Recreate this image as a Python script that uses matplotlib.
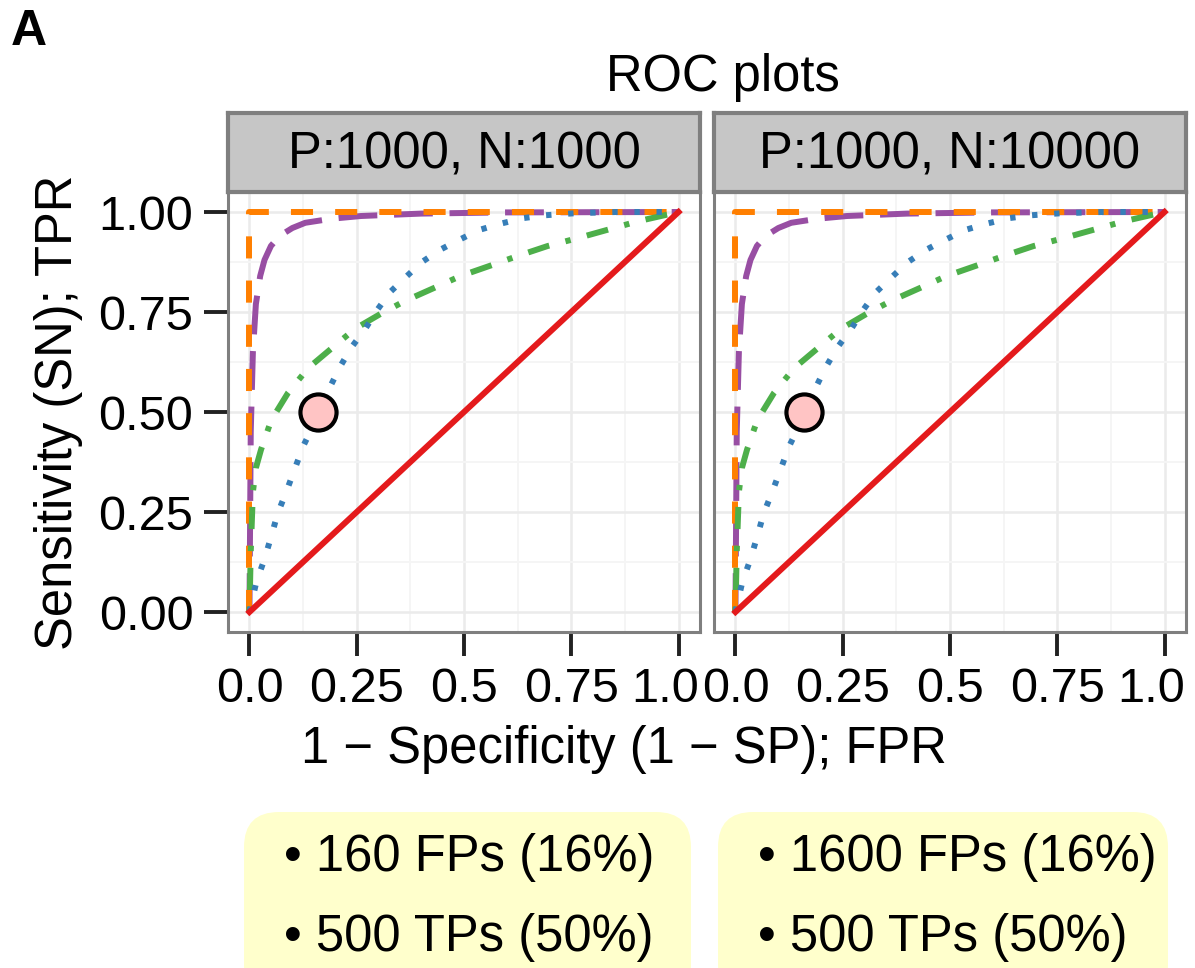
import matplotlib
matplotlib.use("Agg")
import matplotlib.pyplot as plt
from matplotlib.patches import FancyBboxPatch
from matplotlib.transforms import ScaledTranslation

plt.rcParams['font.family'] = ['Liberation Sans', 'DejaVu Sans']

# ROC curves (same shapes in both panels)
random_fpr = [0.0, 1.0]
random_tpr = [0.0, 1.0]

perfect_fpr = [0.0, 0.0, 1.0]
perfect_tpr = [0.0, 1.0, 1.0]

excel_fpr = [0.0, 0.003, 0.008, 0.015, 0.025, 0.035, 0.05, 0.07, 0.1, 0.13, 0.19, 0.26, 0.4, 0.6, 1.0]
excel_tpr = [0.0, 0.45, 0.65, 0.77, 0.84, 0.88, 0.915, 0.94, 0.96, 0.973, 0.983, 0.99, 0.996, 0.999, 1.0]

good_fpr = [0.0, 0.016, 0.035, 0.051, 0.066, 0.086, 0.105, 0.125, 0.164, 0.188, 0.211, 0.238, 0.27,
            0.297, 0.328, 0.363, 0.402, 0.445, 0.488, 0.535, 0.586, 0.64, 0.691, 0.76, 0.855, 1.0]
good_tpr = [0.0, 0.075, 0.132, 0.19, 0.247, 0.301, 0.356, 0.414, 0.5, 0.563, 0.613, 0.662, 0.708,
            0.754, 0.8, 0.836, 0.875, 0.906, 0.93, 0.955, 0.971, 0.985, 0.992, 0.997, 1.0, 1.0]

fair_fpr = [0.0, 0.003, 0.008, 0.015, 0.027, 0.051, 0.09, 0.137, 0.188, 0.246, 0.305, 0.363, 0.43,
            0.492, 0.559, 0.625, 0.695, 0.766, 0.836, 0.906, 0.98, 1.0]
fair_tpr = [0.0, 0.15, 0.3, 0.36, 0.406, 0.48, 0.548, 0.61, 0.656, 0.708, 0.745, 0.778, 0.81,
            0.84, 0.865, 0.89, 0.915, 0.935, 0.956, 0.977, 0.995, 1.0]

point_fpr = 0.16
point_tpr = 0.5

panel_titles = ['P:1000, N:1000', 'P:1000, N:10000']
box_lines = [['• 160 FPs (16%)', '• 500 TPs (50%)'],
             ['• 1600 FPs (16%)', '• 500 TPs (50%)']]

x_ticks = [0.0, 0.25, 0.5, 0.75, 1.0]
x_ticklabels = ['0.0', '0.25', '0.5', '0.75', '1.0']
y_ticks = [0.0, 0.25, 0.5, 0.75, 1.0]
y_ticklabels = ['0.00', '0.25', '0.50', '0.75', '1.00']
minor_ticks = [0.125, 0.375, 0.625, 0.875]

W, H = 1195, 968
FS = 36.5
TFS = 35
LW = 4.3
BORDER = '#7F7F7F'


def frac(x0, y0, x1, y1):
    """pixel box (top-left origin) -> figure fraction rect"""
    return [x0 / W, 1 - y1 / H, (x1 - x0) / W, (y1 - y0) / H]


fig = plt.figure(figsize=(W / 100, H / 100), dpi=100)

panels = [(228, 700), (714, 1186)]
for i, (x0, x1) in enumerate(panels):
    ax = fig.add_axes(frac(x0, 192, x1, 632))
    ax.set_xlim(-0.05, 1.05)
    ax.set_ylim(-0.05, 1.05)
    ax.set_xticks(x_ticks)
    ax.set_xticklabels(x_ticklabels)
    ax.set_yticks(y_ticks)
    ax.set_yticklabels(y_ticklabels)
    ax.set_xticks(minor_ticks, minor=True)
    ax.set_yticks(minor_ticks, minor=True)
    ax.grid(True, which='major', color='#EBEBEB', lw=1.8, zorder=0)
    ax.grid(True, which='minor', color='#F5F5F5', lw=1.3, zorder=0)
    ax.set_axisbelow(True)
    ax.tick_params(which='minor', length=0)
    ax.tick_params(which='major', direction='out', length=17, width=2.8, color='#222222',
                   labelsize=TFS, pad=8)
    if i > 0:
        ax.tick_params(axis='y', which='major', left=False, labelleft=False)
    # last x label sits a bit left of its tick, like the original
    last = ax.get_xticklabels()[-1]
    last.set_transform(last.get_transform() + ScaledTranslation(-0.13, 0, fig.dpi_scale_trans))
    for sp in ax.spines.values():
        sp.set_color(BORDER)
        sp.set_linewidth(2.2)

    ax.plot(excel_fpr, excel_tpr, color='#984EA3', lw=LW, linestyle=(0, (6.5, 2.8)))
    ax.plot(perfect_fpr, perfect_tpr, color='#FF7F00', lw=LW, linestyle=(0, (3.7, 3.7)))
    ax.plot(fair_fpr, fair_tpr, color='#4DAF4A', lw=LW, linestyle=(0, (0.9, 2.8, 3.7, 2.8)))
    ax.plot(good_fpr, good_tpr, color='#377EB8', lw=LW, linestyle=(0, (0.9, 2.8)))
    ax.plot(random_fpr, random_tpr, color='#E41A1C', lw=LW)
    ax.plot(point_fpr, point_tpr, 'o', ms=26, mfc='#FFC4C4', mec='black', mew=3, zorder=5)

    # facet strip
    st = fig.add_axes(frac(x0, 113, x1, 192))
    st.set_facecolor('#C6C6C6')
    st.set_xticks([])
    st.set_yticks([])
    for sp in st.spines.values():
        sp.set_color(BORDER)
        sp.set_linewidth(3)
    st.text(0.5, 0.47, panel_titles[i], ha='center', va='center', fontsize=FS,
            transform=st.transAxes)

# yellow boxes underneath
box_x = [(244, 691), (718, 1168)]
for (bx0, bx1), lines in zip(box_x, box_lines):
    patch = FancyBboxPatch((bx0 / 100, (H - 1000) / 100), (bx1 - bx0) / 100, (1000 - 812) / 100,
                           boxstyle='round,pad=0,rounding_size=0.35',
                           transform=fig.dpi_scale_trans, facecolor='#FFFFCC',
                           edgecolor='none', zorder=0)
    fig.patches.append(patch)
    fig.text((bx0 + 40) / W, 1 - 857 / H, lines[0], ha='left', va='center', fontsize=FS)
    fig.text((bx0 + 40) / W, 1 - 937 / H, lines[1], ha='left', va='center', fontsize=FS)

fig.text(11 / W, 1 - 32 / H, 'A', ha='left', va='center', fontsize=36, fontweight='bold')
fig.text(723 / W, 1 - 77 / H, 'ROC plots', ha='center', va='center', fontsize=FS)
fig.text(624 / W, 1 - 750 / H, '1 \u2212 Specificity (1 \u2212 SP); FPR', ha='center', va='center',
         fontsize=FS)
fig.text(59 / W, 1 - 412 / H, 'Sensitivity (SN); TPR', ha='center', va='center', rotation=90,
         fontsize=FS)

fig.savefig('out.png', dpi=100)
